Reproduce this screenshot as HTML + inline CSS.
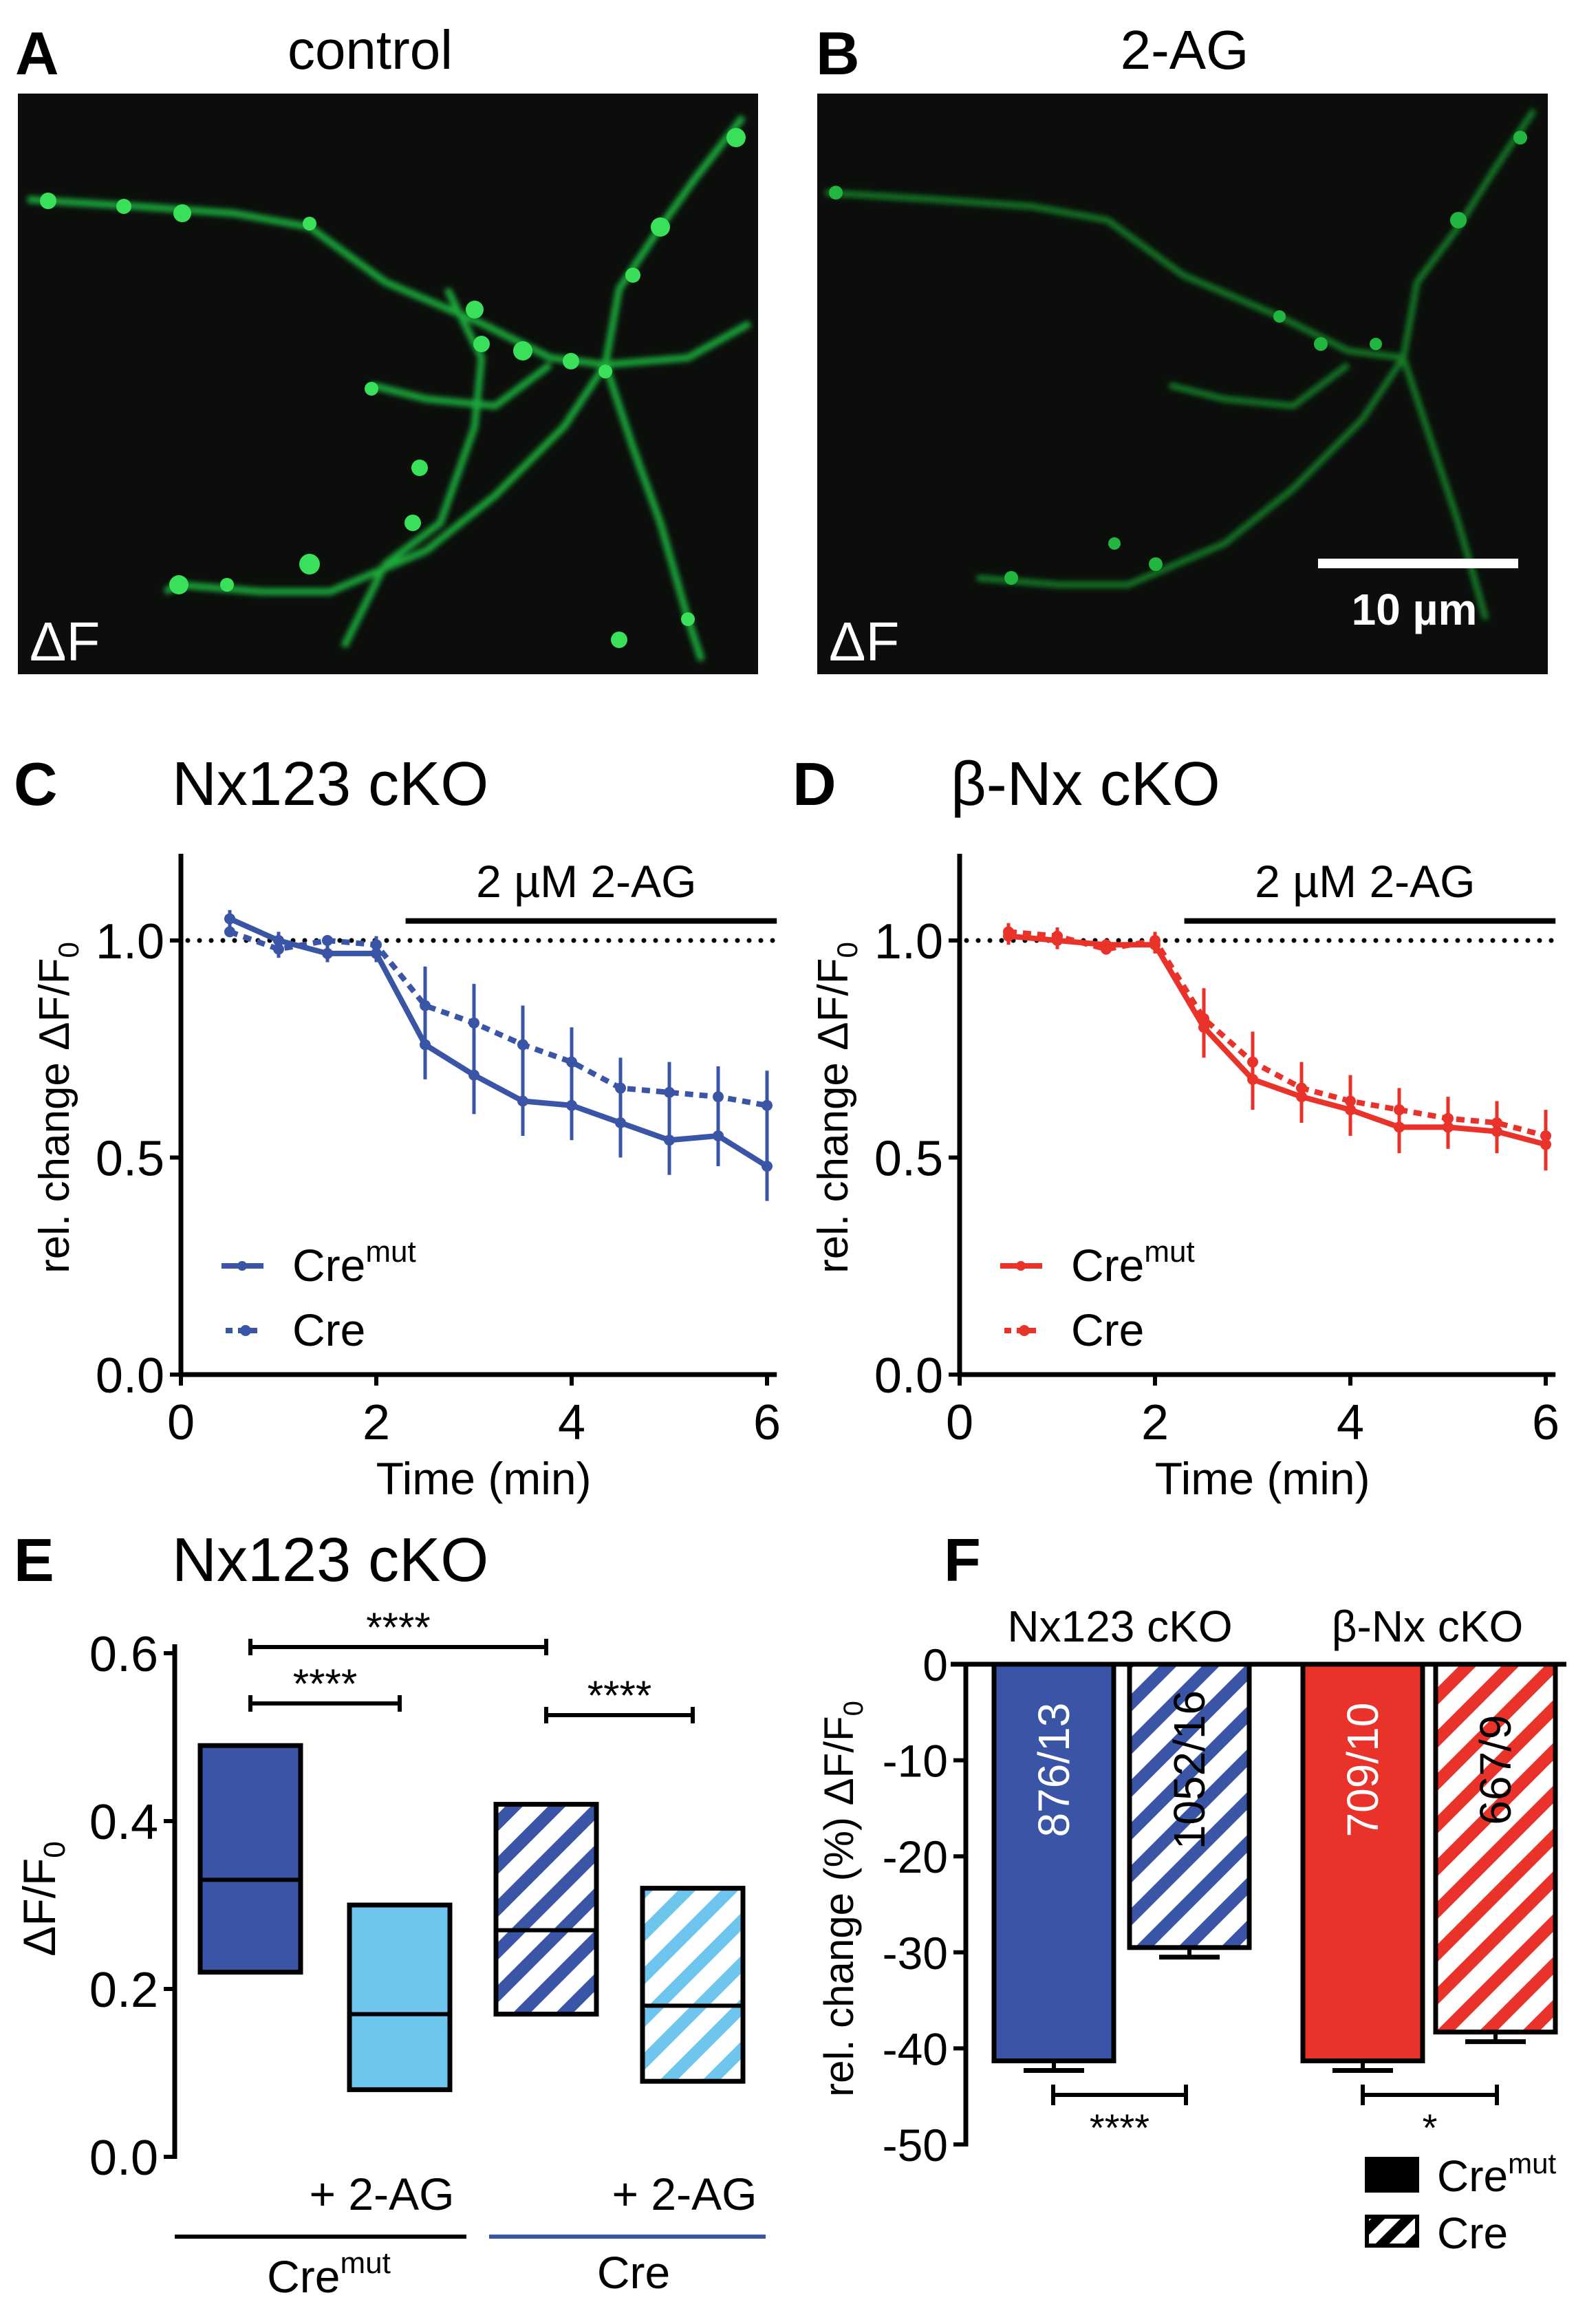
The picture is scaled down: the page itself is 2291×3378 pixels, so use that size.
<!DOCTYPE html>
<html><head><meta charset="utf-8">
<style>
html,body{margin:0;padding:0;background:#fff;}
svg{display:block;font-family:"Liberation Sans",Arial,sans-serif;}
</style></head>
<body>
<svg id="fig" width="2291" height="3378" viewBox="0 0 2291 3378" xmlns="http://www.w3.org/2000/svg">
<defs>
<pattern id="hBlue" width="44" height="44" patternUnits="userSpaceOnUse" patternTransform="rotate(45)"><rect width="44" height="44" fill="#fff"/><rect width="18" height="44" fill="#3a55a5"/></pattern>
<pattern id="hLight" width="44" height="44" patternUnits="userSpaceOnUse" patternTransform="rotate(45)"><rect width="44" height="44" fill="#fff"/><rect width="18" height="44" fill="#6ec6ef"/></pattern>
<pattern id="hRed" width="44" height="44" patternUnits="userSpaceOnUse" patternTransform="rotate(45)"><rect width="44" height="44" fill="#fff"/><rect width="18" height="44" fill="#e8322a"/></pattern>
<pattern id="hBlack" width="30" height="30" patternUnits="userSpaceOnUse" patternTransform="rotate(45)"><rect width="30" height="30" fill="#fff"/><rect width="14" height="30" fill="#000"/></pattern>
<filter id="glow"><feGaussianBlur stdDeviation="4"/></filter>
</defs>

<!-- Panel A / B images -->
<text x="22" y="108" font-size="88" font-weight="bold">A</text>
<text x="538" y="100" font-size="80" text-anchor="middle">control</text>
<rect x="26" y="136" width="1076" height="844" fill="#0b0e0b"/>
<g filter="url(#glow)" stroke="#1fa83a" fill="none" stroke-width="10">
<polyline points="40,290 200,300 340,310 450,330 560,410 700,470 800,520 880,530"/>
<polyline points="1080,170 1010,260 960,330 900,420 880,530 820,620 720,720 620,800 480,860 380,860 260,850 240,860"/>
<polyline points="880,530 920,650 960,760 1000,900 1020,960"/>
<polyline points="650,420 700,520 690,620 640,760 560,820 500,940"/>
<polyline points="540,560 620,580 720,590 800,530"/>
<polyline points="880,530 1000,520 1090,470"/>
</g>
<g fill="#3be05a">
<circle cx="70" cy="292" r="12"/><circle cx="180" cy="300" r="11"/><circle cx="265" cy="310" r="13"/><circle cx="450" cy="325" r="10"/><circle cx="690" cy="450" r="13"/><circle cx="760" cy="510" r="14"/><circle cx="830" cy="525" r="12"/><circle cx="880" cy="540" r="10"/><circle cx="1070" cy="200" r="14"/><circle cx="960" cy="330" r="14"/><circle cx="920" cy="400" r="11"/><circle cx="700" cy="500" r="12"/><circle cx="610" cy="680" r="12"/><circle cx="600" cy="760" r="12"/><circle cx="450" cy="820" r="15"/><circle cx="260" cy="850" r="14"/><circle cx="330" cy="850" r="10"/><circle cx="900" cy="930" r="12"/><circle cx="1000" cy="900" r="10"/><circle cx="540" cy="565" r="10"/>
</g>
<text x="43" y="960" font-size="80" fill="#fff">ΔF</text>

<text x="1186" y="108" font-size="88" font-weight="bold">B</text>
<text x="1722" y="100" font-size="80" text-anchor="middle">2-AG</text>
<rect x="1188" y="136" width="1062" height="844" fill="#0b0e0b"/>
<g filter="url(#glow)" stroke="#147a28" fill="none" stroke-width="9">
<polyline points="1200,280 1360,290 1500,300 1610,320 1720,400 1860,460 1960,510 2040,520"/>
<polyline points="2230,160 2170,250 2120,330 2060,410 2040,520 1980,610 1880,710 1780,790 1640,850 1540,850 1420,840"/>
<polyline points="2040,520 2080,640 2120,760 2160,900"/>
<polyline points="1700,560 1780,580 1880,590 1960,530"/>
</g>
<g fill="#22b640">
<circle cx="1215" cy="280" r="10"/><circle cx="2210" cy="200" r="10"/><circle cx="2120" cy="320" r="12"/><circle cx="1860" cy="460" r="9"/><circle cx="1920" cy="500" r="10"/><circle cx="1680" cy="820" r="10"/><circle cx="1620" cy="790" r="9"/><circle cx="1470" cy="840" r="10"/><circle cx="2000" cy="500" r="9"/>
</g>
<rect x="1916" y="812" width="291" height="14" fill="#fff"/>
<text x="2056" y="908" font-size="64" font-weight="bold" fill="#fff" text-anchor="middle">10 µm</text>
<text x="1205" y="960" font-size="80" fill="#fff">ΔF</text>

<g id="panelC"></g>
<g id="panelD"></g>
<g id="panelE"></g>
<g id="panelF"></g>
</svg>

<script>
// ---- data ----
const times = [0.5,1,1.5,2,2.5,3,3.5,4,4.5,5,5.5,6];
const cCreMut = [1.05,1.0,0.97,0.97,0.76,0.69,0.63,0.62,0.58,0.54,0.55,0.48];
const cCreMutErr = [0.02,0.02,0.02,0.02,0.08,0.09,0.08,0.08,0.08,0.08,0.07,0.08];
const cCre = [1.02,0.98,1.0,0.99,0.85,0.81,0.76,0.72,0.66,0.65,0.64,0.62];
const cCreErr = [0.01,0.02,0.01,0.02,0.09,0.09,0.09,0.08,0.07,0.07,0.07,0.08];
const dCreMut = [1.01,1.0,0.99,0.99,0.80,0.68,0.64,0.61,0.57,0.57,0.56,0.53];
const dCreMutErr = [0.02,0.02,0.01,0.02,0.07,0.07,0.06,0.06,0.06,0.05,0.05,0.06];
const dCre = [1.02,1.01,0.98,1.0,0.82,0.72,0.66,0.63,0.61,0.59,0.58,0.55];
const dCreErr = [0.02,0.02,0.01,0.02,0.07,0.07,0.06,0.06,0.05,0.05,0.05,0.06];
const xTicks = [0,2,4,6];
const yTicksC = [0.0,0.5,1.0];
const boxGroups = ["Cremut","Cremut + 2-AG","Cre","Cre + 2-AG"];
const boxTop = [0.49,0.30,0.42,0.32];
const boxMed = [0.33,0.17,0.27,0.18];
const boxBot = [0.22,0.08,0.17,0.09];
const yTicksE = [0.0,0.2,0.4,0.6];
const barLabels = ["876/13","1052/16","709/10","667/9"];
const barValues = [-41.3,-29.5,-41.3,-38.3];
const barErr = [1.0,1.0,1.0,1.0];
const yTicksF = [0,-10,-20,-30,-40,-50];

const NS = "http://www.w3.org/2000/svg";
function mk(parent, tag, attrs, text){
  const e = document.createElementNS(NS, tag);
  for (const k in attrs) e.setAttribute(k, attrs[k]);
  if (text !== undefined) e.textContent = text;
  parent.appendChild(e);
  return e;
}

// ---- time-course panels ----
function timePanel(gid, ox, label, title, color, mut, mutErr, cre, creErr){
  const g = document.getElementById(gid);
  const x0 = 263 + ox, xs = 142;
  const X = t => x0 + t*xs;
  const Y = v => 1998 - v*631;
  let e;
  e = mk(g,'text',{x:20+ox,y:1170,'font-size':88,'font-weight':'bold'},label);
   
  e = mk(g,'text',{x:250+ox,y:1170,'font-size':90},title);
   
  e = mk(g,'line',{x1:x0,y1:1241,x2:x0,y2:2001,stroke:'#000','stroke-width':7});
   
  e = mk(g,'line',{x1:x0-3,y1:1998,x2:X(6.1),y2:1998,stroke:'#000','stroke-width':7});
   
  yTicksC.forEach(v=>{
    const t = mk(g,'line',{x1:x0-16,y1:Y(v),x2:x0,y2:Y(v),stroke:'#000','stroke-width':6});
     
    const l = mk(g,'text',{x:x0-24,y:Y(v)+26,'font-size':72,'text-anchor':'end'},v.toFixed(1));
     
  });
  xTicks.forEach(v=>{
    const t = mk(g,'line',{x1:X(v),y1:1998,x2:X(v),y2:2014,stroke:'#000','stroke-width':6});
     
    const l = mk(g,'text',{x:X(v),y:2092,'font-size':72,'text-anchor':'middle'},String(v));
     
  });
  e = mk(g,'text',{x:X(3.1),y:2172,'font-size':66,'text-anchor':'middle'},'Time (min)');
   
  e = mk(g,'text',{x:0,y:0,'font-size':62,'text-anchor':'middle',transform:`translate(${100+ox},1610) rotate(-90)`});
   
  e.innerHTML = 'rel. change ΔF/F<tspan font-size="42" dy="14">0</tspan>';
  e = mk(g,'line',{x1:x0+10,y1:Y(1),x2:X(6.15),y2:Y(1),stroke:'#000','stroke-width':7,'stroke-dasharray':'0 17','stroke-linecap':'round'});
   
  e = mk(g,'line',{x1:X(2.3),y1:Y(1.045),x2:X(6.1),y2:Y(1.045),stroke:'#000','stroke-width':8});
   
  e = mk(g,'text',{x:X(4.15),y:Y(1.1),'font-size':66,'text-anchor':'middle'},'2 µM 2-AG');
   
  function series(vals, errs, dashed, name){
    const s = mk(g,'g',{});
     
    vals.forEach((v,i)=>{
      const eb = mk(s,'line',{x1:X(times[i]),y1:Y(v+errs[i]),x2:X(times[i]),y2:Y(v-errs[i]),stroke:color,'stroke-width':5});
       
    });
    const pl = mk(s,'polyline',{points:vals.map((v,i)=>X(times[i])+','+Y(v)).join(' '),fill:'none',stroke:color,'stroke-width':8,'stroke-dasharray':dashed?'12 9':'none','stroke-linejoin':'round'});
     
    vals.forEach((v,i)=>{
      const c = mk(s,'circle',{cx:X(times[i]),cy:Y(v),r:8,fill:color});
       
    });
  }
  series(cre, creErr, true, 'series-cre');
  series(mut, mutErr, false, 'series-cremut');
  const lg = mk(g,'g',{});
   
  e = mk(lg,'line',{x1:322+ox,y1:1840,x2:383+ox,y2:1840,stroke:color,'stroke-width':8});
   
  mk(lg,'circle',{cx:352+ox,cy:1840,r:7,fill:color});
  e = mk(lg,'text',{x:425+ox,y:1862,'font-size':66});
   
  e.innerHTML = 'Cre<tspan font-size="44" dy="-28">mut</tspan>';
  e = mk(lg,'line',{x1:328+ox,y1:1934,x2:380+ox,y2:1934,stroke:color,'stroke-width':8,'stroke-dasharray':'10 8'});
   
  mk(lg,'circle',{cx:357+ox,cy:1934,r:8,fill:color});
  e = mk(lg,'text',{x:425+ox,y:1956,'font-size':66},'Cre');
   
}
timePanel('panelC',0,'C','Nx123 cKO','#3a55a5',cCreMut,cCreMutErr,cCre,cCreErr);
timePanel('panelD',1132,'D','β-Nx cKO','#e8322a',dCreMut,dCreMutErr,dCre,dCreErr);

// ---- panel E ----
(function(){
  const g = document.getElementById('panelE');
  const x0 = 254;
  const Y = v => 3135 - v*(3135-2403)/0.6;
  const boxX = [291,508,721,934], boxW = 146;
  const fills = ['#3a55a5','#6ec6ef','url(#hBlue)','url(#hLight)'];
  let e;
  e = mk(g,'text',{x:20,y:2298,'font-size':88,'font-weight':'bold'},'E');
   
  e = mk(g,'text',{x:250,y:2298,'font-size':90},'Nx123 cKO');
   
  e = mk(g,'line',{x1:x0,y1:2390,x2:x0,y2:3138,stroke:'#000','stroke-width':7});
   
  yTicksE.forEach(v=>{
    const t = mk(g,'line',{x1:x0-16,y1:Y(v),x2:x0,y2:Y(v),stroke:'#000','stroke-width':6});
     
    const l = mk(g,'text',{x:x0-24,y:Y(v)+26,'font-size':72,'text-anchor':'end'},v.toFixed(1));
     
  });
  e = mk(g,'text',{x:0,y:0,'font-size':66,'text-anchor':'middle',transform:'translate(80,2760) rotate(-90)'});
   
  e.innerHTML = 'ΔF/F<tspan font-size="44" dy="14">0</tspan>';
  boxGroups.forEach((name,i)=>{
    const r = mk(g,'rect',{x:boxX[i],y:Y(boxTop[i]),width:boxW,height:Y(boxBot[i])-Y(boxTop[i]),fill:fills[i],stroke:'#000','stroke-width':7});
     
    const m = mk(g,'line',{x1:boxX[i],y1:Y(boxMed[i]),x2:boxX[i]+boxW,y2:Y(boxMed[i]),stroke:'#000','stroke-width':6});
     
  });
  const cx = i => boxX[i]+boxW/2;
  function sig(a,b,yy){
    const s = mk(g,'g',{});
     
    mk(s,'line',{x1:cx(a),y1:yy,x2:cx(b),y2:yy,stroke:'#000','stroke-width':6});
    mk(s,'line',{x1:cx(a),y1:yy-12,x2:cx(a),y2:yy+12,stroke:'#000','stroke-width':6});
    mk(s,'line',{x1:cx(b),y1:yy-12,x2:cx(b),y2:yy+12,stroke:'#000','stroke-width':6});
    mk(s,'text',{x:(cx(a)+cx(b))/2,y:yy-8,'font-size':60,'text-anchor':'middle'},'****');
  }
  sig(0,2,2394); sig(0,1,2476); sig(2,3,2493);
  e = mk(g,'text',{x:555,y:3212,'font-size':66,'text-anchor':'middle'},'+ 2-AG');
   
  e = mk(g,'text',{x:995,y:3212,'font-size':66,'text-anchor':'middle'},'+ 2-AG');
   
  e = mk(g,'line',{x1:254,y1:3251,x2:678,y2:3251,stroke:'#000','stroke-width':6});
   
  e = mk(g,'line',{x1:711,y1:3251,x2:1113,y2:3251,stroke:'#3a55a5','stroke-width':6});
   
  e = mk(g,'text',{x:478,y:3332,'font-size':66,'text-anchor':'middle'});
   
  e.innerHTML = 'Cre<tspan font-size="44" dy="-28">mut</tspan>';
  e = mk(g,'text',{x:921,y:3326,'font-size':66,'text-anchor':'middle'},'Cre');
   
})();

// ---- panel F ----
(function(){
  const g = document.getElementById('panelF');
  const x0 = 1404;
  const Y = v => 2419 - v*(3117-2419)/50;
  const barX = [1445,1642,1894,2087], barW = 174;
  const fills = ['#3a55a5','url(#hBlue)','#e8322a','url(#hRed)'];
  const txtCol = ['#fff','#000','#fff','#000'];
  let e;
  e = mk(g,'text',{x:1372,y:2298,'font-size':88,'font-weight':'bold'},'F');
   
  e = mk(g,'text',{x:1628,y:2386,'font-size':64,'text-anchor':'middle'},'Nx123 cKO');
   
  e = mk(g,'text',{x:2075,y:2386,'font-size':64,'text-anchor':'middle'},'β-Nx cKO');
   
  barValues.forEach((v,i)=>{
    const eb = mk(g,'line',{x1:barX[i]+barW/2,y1:Y(v),x2:barX[i]+barW/2,y2:Y(v-barErr[i]),stroke:'#000','stroke-width':6});
     
    const cap = mk(g,'line',{x1:barX[i]+barW/2-44,y1:Y(v-barErr[i]),x2:barX[i]+barW/2+44,y2:Y(v-barErr[i]),stroke:'#000','stroke-width':7});
     
    const r = mk(g,'rect',{x:barX[i],y:Y(0),width:barW,height:Y(v)-Y(0),fill:fills[i],stroke:'#000','stroke-width':7});
     
    const t = mk(g,'text',{x:0,y:0,'font-size':64,'text-anchor':'middle',fill:txtCol[i],transform:`translate(${barX[i]+barW/2+22},${Y(-11)}) rotate(-90)`},barLabels[i]);
     
  });
  e = mk(g,'line',{x1:x0,y1:Y(0)-3,x2:x0,y2:Y(-50)+3,stroke:'#000','stroke-width':7});
   
  e = mk(g,'line',{x1:1382,y1:Y(0),x2:2277,y2:Y(0),stroke:'#000','stroke-width':7});
   
  yTicksF.forEach(v=>{
    const t = mk(g,'line',{x1:x0-18,y1:Y(v),x2:x0,y2:Y(v),stroke:'#000','stroke-width':6});
     
    const l = mk(g,'text',{x:x0-26,y:Y(v)+24,'font-size':66,'text-anchor':'end'},String(v));
     
  });
  e = mk(g,'text',{x:0,y:0,'font-size':60,'text-anchor':'middle',transform:'translate(1240,2760) rotate(-90)'});
   
  e.innerHTML = 'rel. change (%) ΔF/F<tspan font-size="40" dy="14">0</tspan>';
  function sig(xa,xb,txt){
    const s = mk(g,'g',{});
     
    mk(s,'line',{x1:xa,y1:3045,x2:xb,y2:3045,stroke:'#000','stroke-width':6});
    mk(s,'line',{x1:xa,y1:3030,x2:xa,y2:3060,stroke:'#000','stroke-width':6});
    mk(s,'line',{x1:xb,y1:3030,x2:xb,y2:3060,stroke:'#000','stroke-width':6});
    mk(s,'text',{x:(xa+xb)/2,y:3112,'font-size':56,'text-anchor':'middle'},txt);
  }
  sig(1531,1724,'****'); sig(1981,2176,'*');
  e = mk(g,'rect',{x:1984,y:3135,width:79,height:52,fill:'#000'});
   
  e = mk(g,'text',{x:2089,y:3185,'font-size':64});
   
  e.innerHTML = 'Cre<tspan font-size="42" dy="-26">mut</tspan>';
  e = mk(g,'rect',{x:1987,y:3222,width:73,height:42,fill:'url(#hBlack)',stroke:'#000','stroke-width':6});
   
  e = mk(g,'text',{x:2089,y:3268,'font-size':64},'Cre');
   
})();
</script>
</body></html>
